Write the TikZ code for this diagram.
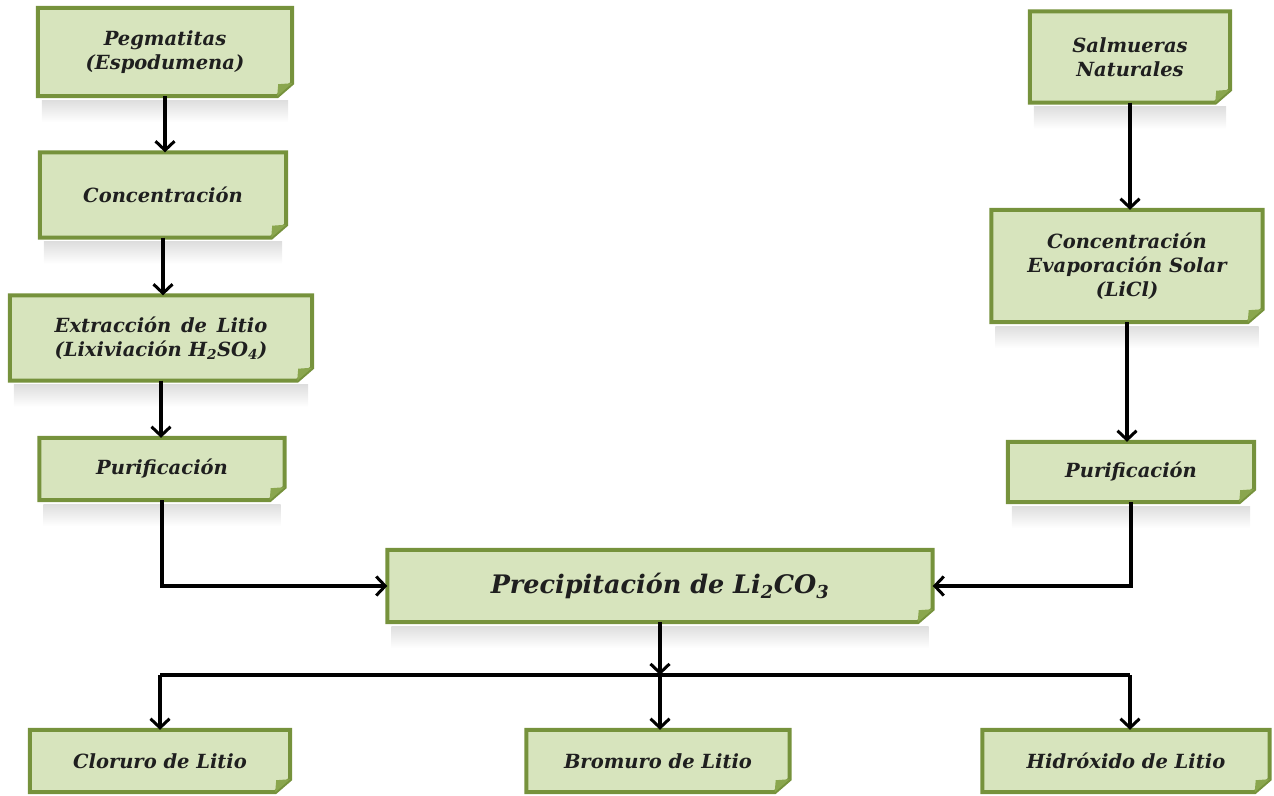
\documentclass[tikz,border=0pt]{standalone}
\usepackage{fontspec}
\setmainfont{DejaVu Serif}
\usetikzlibrary{arrows.meta,backgrounds,calc}
\definecolor{boxfill}{HTML}{D7E4BD}
\definecolor{boxline}{HTML}{76923C}
\definecolor{foldc}{HTML}{8AA64E}
\newlength\extlen
\tikzset{
  box/.style={draw=none, inner sep=0pt, align=center, text=black!88,
    font=\fontsize{19.5}{24}\selectfont\bfseries\itshape},
  arr/.style={line width=3.4pt, -{Straight Barb[length=9pt,width=19pt,line width=3pt]}},
  ln/.style={line width=3.4pt},
  boxedge/.style={draw=boxline, fill=boxfill, line width=4pt, line join=miter},
}
\newcommand\foldbox[1]{%
  \begin{scope}[on background layer]
    \shade[top color=black!13, bottom color=white]
      ($(#1.south west)+(4,4)$) rectangle ($(#1.south east)+(-4,26)$);
    \draw[boxedge] (#1.north west) -- (#1.north east) -- ($(#1.south east)+(0,-13)$)
      -- ($(#1.south east)+(-15,0)$) -- (#1.south west) -- cycle;
    \fill[foldc] ($(#1.south east)+(0,-13)$) -- ($(#1.south east)+(-15,0)$)
      -- ($(#1.south east)+(-14,-12)$) -- cycle;
  \end{scope}}
\begin{document}
\begin{tikzpicture}[x=1pt,y=-1pt]
\useasboundingbox (0,0) rectangle (1274,795);
% left column
\node[box, minimum width=254, minimum height=88] (peg) at (165,52) {Pegmatitas\\(Espodumena)};
\node[box, minimum width=246, minimum height=85] (conc) at (163,195) {Concentración};
\node[box, minimum width=302, minimum height=85] (ext) at (161,338)
  {\settowidth{\extlen}{(Lixiviación H\textsubscript{2}SO\textsubscript{4})}\parbox{\extlen}{Extracción\hfill de\hfill Litio\\(Lixiviación H\textsubscript{2}SO\textsubscript{4})}};
\node[box, minimum width=245, minimum height=62] (purL) at (162,469) {Purificación};
% right column
\node[box, minimum width=200, minimum height=91] (sal) at (1130,57) {Salmueras\\Naturales};
\node[box, minimum width=271, minimum height=112] (evap) at (1127,266) {Concentración\\Evaporación Solar\\(LiCl)};
\node[box, minimum width=246, minimum height=60] (purR) at (1131,472) {Purificación};
% centre
\node[box, minimum width=545, minimum height=72, font=\fontsize{25.5}{30}\selectfont\bfseries\itshape] (prec) at (660,586)
  {Precipitación de Li\textsubscript{2}CO\textsubscript{3}};
% bottom row
\node[box, minimum width=260, minimum height=62] (clo) at (160,761) {Cloruro de Litio};
\node[box, minimum width=263, minimum height=62] (bro) at (658,761) {Bromuro de Litio};
\node[box, minimum width=287, minimum height=62] (hid) at (1126,761) {Hidróxido de Litio};
\foreach \n in {peg,conc,ext,purL,sal,evap,purR,prec,clo,bro,hid}{\foldbox{\n}}
% connectors
\draw[arr] (peg.south) -- (peg.south |- conc.north);
\draw[arr] (conc.south) -- (conc.south |- ext.north);
\draw[arr] (ext.south) -- (ext.south |- purL.north);
\draw[arr] (sal.south) -- (sal.south |- evap.north);
\draw[arr] (evap.south) -- (evap.south |- purR.north);
\draw[arr] (purL.south) |- (prec.west);
\draw[arr] (purR.south) |- (prec.east);
\coordinate (j) at (660,675);
\coordinate (jl) at (160,675);
\coordinate (jr) at (1130,675);
\draw[arr] (prec.south) -- (j);
\draw[ln] (jl) -- (jr);
\draw[arr] (jl) -- (jl |- clo.north);
\draw[arr] (j) -- (j |- bro.north);
\draw[arr] (jr) -- (jr |- hid.north);
\end{tikzpicture}
\end{document}
